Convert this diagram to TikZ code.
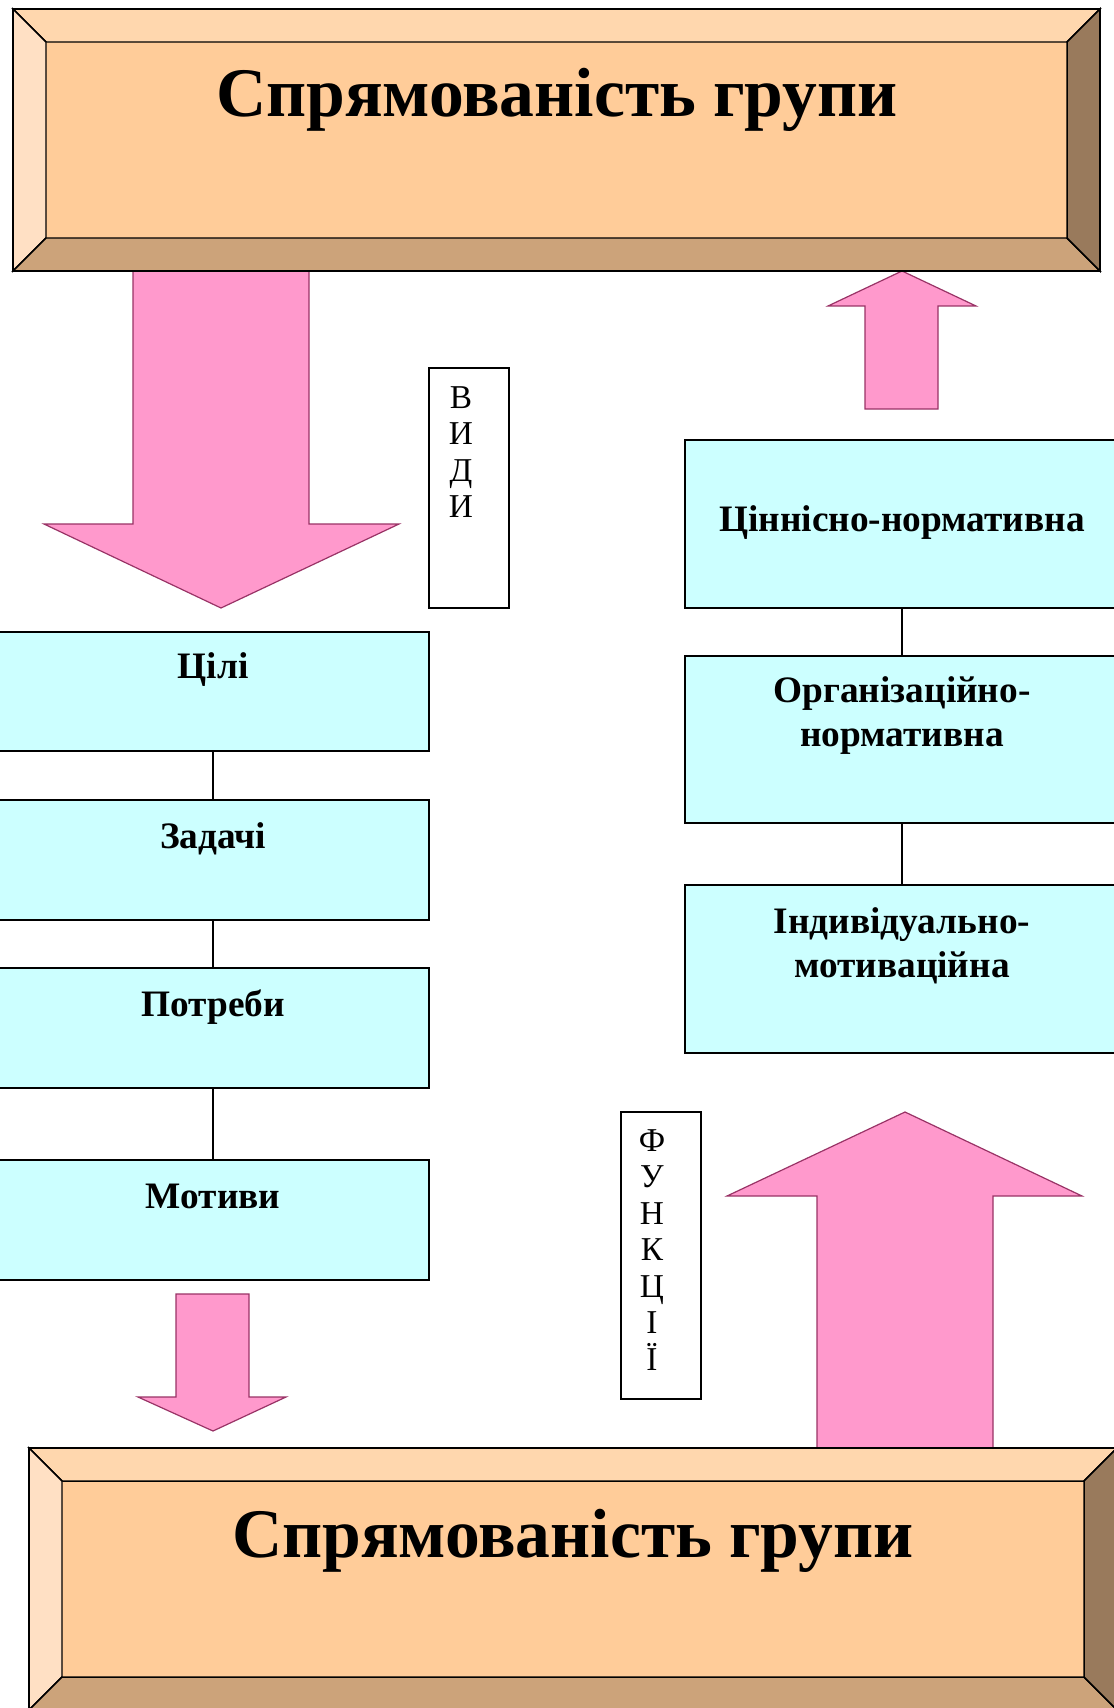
\documentclass[tikz,border=0pt]{standalone}
\usepackage{fontspec}
\setmainfont{Liberation Serif}
\usetikzlibrary{fit}
\definecolor{peachface}{HTML}{FFCC99}
\definecolor{peachtop}{HTML}{FFD7AE}
\definecolor{peachleft}{HTML}{FFE0C4}
\definecolor{peachbottom}{HTML}{CCA37A}
\definecolor{peachright}{HTML}{997A5C}
\definecolor{arrowpink}{HTML}{FF99CC}
\definecolor{arrowline}{HTML}{993366}
\definecolor{lightcyan}{HTML}{CCFFFF}

\begin{document}
\begin{tikzpicture}[x=0.75pt, y=-0.75pt]
    \tikzset{bevel/.style={draw=black, line width=1.1pt, line join=miter}}
    \tikzset{blockarrow/.style={draw=arrowline, fill=arrowpink, line width=0.9pt}}
    \tikzset{cyanbox/.style={draw=black, fill=lightcyan, line width=1.1pt, inner sep=0pt}}
    \tikzset{framebox/.style={draw=black, line width=1.1pt, inner sep=0pt}}
    \tikzset{title/.style={font=\bfseries\fontsize{52.2}{60}\selectfont, inner sep=0pt}}
    \tikzset{boxtext/.style={font=\bfseries\fontsize{28}{33}\selectfont, align=center, inner sep=0pt}}
    \tikzset{lettercol/.style={font=\fontsize{25}{27.4}\selectfont, align=center, inner sep=0pt}}
    \useasboundingbox (0, 0) rectangle (1113, 1708);

    \draw[blockarrow] (133, 271) -- (309, 271) -- (309, 524) -- (399, 524) -- (221, 608) -- (44, 524) -- (133, 524) -- cycle;
    \draw[blockarrow] (902, 271) -- (976, 306) -- (938, 306) -- (938, 409) -- (865, 409) -- (865, 306) -- (828, 306) -- cycle;
    \draw[blockarrow] (176, 1294) -- (249, 1294) -- (249, 1397) -- (286, 1397) -- (213, 1431) -- (138, 1397) -- (176, 1397) -- cycle;
    \draw[blockarrow] (905, 1112) -- (1082, 1196) -- (993, 1196) -- (993, 1448) -- (817, 1448) -- (817, 1196) -- (727, 1196) -- cycle;

    \foreach \xa/\ya/\xb/\yb/\tx/\ty/\nm in {13/9/1100/271/557/116.5/toptitle, 29/1448/1117/1710/573/1557/bottomtitle} {
        \fill[peachface] (\xa+33, \ya+33) rectangle (\xb-33, \yb-33);
        \draw[bevel, fill=peachtop] (\xa, \ya) -- (\xb, \ya) -- (\xb-33, \ya+33) -- (\xa+33, \ya+33) -- cycle;
        \draw[bevel, fill=peachleft] (\xa, \ya) -- (\xa+33, \ya+33) -- (\xa+33, \yb-33) -- (\xa, \yb) -- cycle;
        \draw[bevel, fill=peachbottom] (\xa, \yb) -- (\xa+33, \yb-33) -- (\xb-33, \yb-33) -- (\xb, \yb) -- cycle;
        \draw[bevel, fill=peachright] (\xb, \ya) -- (\xb, \yb) -- (\xb-33, \yb-33) -- (\xb-33, \ya+33) -- cycle;
        \draw[bevel] (\xa, \ya) rectangle (\xb, \yb);
        \node[title, anchor=base] (\nm) at (\tx, \ty) {Спрямованість групи};
    }

    \node[framebox, fit={(429, 368) (509, 608)}] (vydybox) {};
    \node[lettercol] (vydy) at (461, 452) {В\\И\\Д\\И};
    \node[framebox, fit={(621, 1112) (701, 1399)}] (funktsiibox) {};
    \node[lettercol] (funktsii) at (652, 1250) {Ф\\У\\Н\\К\\Ц\\І\\Ї};

    \node[cyanbox, fit={(-3, 632) (429, 751)}] (tsili) {};
    \node[cyanbox, fit={(-3, 800) (429, 920)}] (zadachi) {};
    \node[cyanbox, fit={(-3, 968) (429, 1088)}] (potreby) {};
    \node[cyanbox, fit={(-3, 1160) (429, 1280)}] (motyvy) {};
    \draw[line width=0.9pt] (tsili) -- (zadachi);
    \draw[line width=0.9pt] (zadachi) -- (potreby);
    \draw[line width=0.9pt] (potreby) -- (motyvy);
    \node[boxtext, anchor=base] (tsilitext) at (213, 678) {Цілі};
    \node[boxtext, anchor=base] (zadachitext) at (213, 848) {Задачі};
    \node[boxtext, anchor=base] (potrebytext) at (213, 1016) {Потреби};
    \node[boxtext, anchor=base] (motyvytext) at (213, 1208) {Мотиви};

    \node[cyanbox, fit={(685, 440) (1119, 608)}] (tsinnisna) {};
    \node[cyanbox, fit={(685, 656) (1119, 823)}] (orhanizatsiina) {};
    \node[cyanbox, fit={(685, 885) (1119, 1053)}] (indyvidualna) {};
    \draw[line width=0.9pt] (tsinnisna) -- (orhanizatsiina);
    \draw[line width=0.9pt] (orhanizatsiina) -- (indyvidualna);
    \node[boxtext, anchor=base] (tsinnisnatext) at (902, 531) {Ціннісно-нормативна};
    \node[boxtext] (orhanizatsiinatext) at (902, 716) {Організаційно-\\нормативна};
    \node[boxtext] (indyvidualnatext) at (902, 946) {Індивідуально-\\мотиваційна};
\end{tikzpicture}
\end{document}
